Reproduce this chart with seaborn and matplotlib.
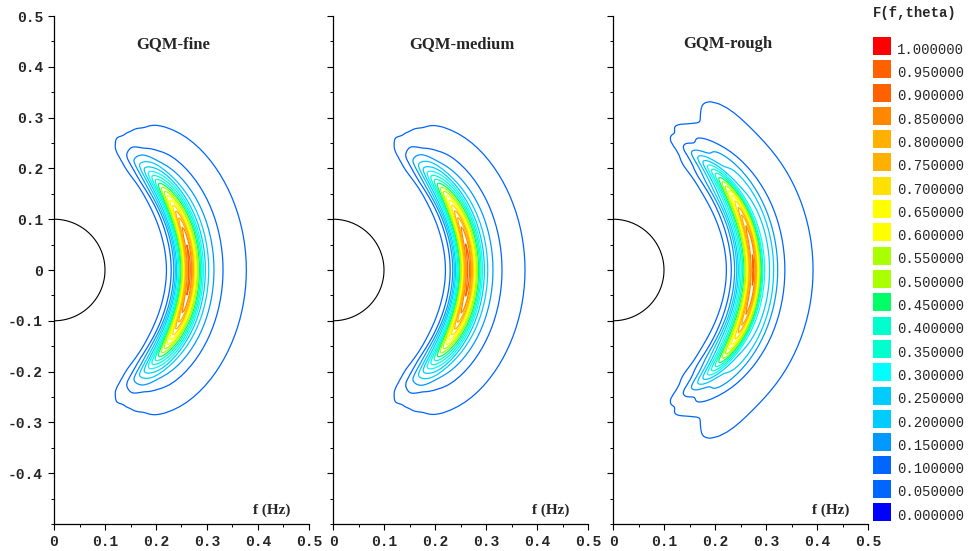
import numpy as np
import pandas as pd
import seaborn as sns
import matplotlib
matplotlib.use('Agg')
import matplotlib.pyplot as plt

# contour levels of the normalised spectrum and their colours (legend order bottom -> top)
levels = [0.00, 0.05, 0.10, 0.15, 0.20, 0.25, 0.30, 0.35, 0.40, 0.45, 0.50,
          0.55, 0.60, 0.65, 0.70, 0.75, 0.80, 0.85, 0.90, 0.95, 1.00]
level_colors = ['#0000ff', '#0066ff', '#0066ff', '#0099ff', '#00ccff', '#00ccff',
                '#00ffff', '#00ffcc', '#00ffcc', '#00ff66', '#aaff00', '#aaff00',
                '#ffff00', '#ffff00', '#ffe000', '#ffb000', '#ffb000', '#ff8800',
                '#ff6000', '#ff6000', '#ff0000']

panel_titles = ['GQM-fine', 'GQM-medium', 'GQM-rough']

# frequency nodes (Hz), spectrum at theta=0, half-power half-width (deg), spreading shape power
fine_freq = [0.00, 0.20, 0.222, 0.235, 0.25, 0.265, 0.28, 0.295, 0.31, 0.33, 0.36, 0.40, 0.45, 0.50]
fine_spec = [0.00, 0.00, 0.05, 0.13, 0.45, 1.01, 0.55, 0.25, 0.16, 0.10, 0.065, 0.03, 0.01, 0.00]
fine_width = [40, 40, 40, 40, 39, 37, 44, 50, 54, 58, 61, 63, 63, 63]
fine_power = [3.0, 3.0, 3.0, 3.0, 3.0, 3.0, 3.2, 3.6, 4.0, 4.8, 5.0, 5.0, 5.0, 5.0]

medium_freq = [0.00, 0.20, 0.222, 0.235, 0.25, 0.265, 0.28, 0.295, 0.31, 0.33, 0.36, 0.40, 0.45, 0.50]
medium_spec = [0.00, 0.00, 0.05, 0.13, 0.46, 1.01, 0.56, 0.25, 0.16, 0.10, 0.064, 0.03, 0.01, 0.00]
medium_width = [40, 40, 40, 40, 39, 37, 44, 50, 54, 58, 61, 63, 63, 63]
medium_power = [3.0, 3.0, 3.0, 3.0, 3.0, 3.0, 3.2, 3.6, 4.0, 4.8, 5.0, 5.0, 5.0, 5.0]

rough_freq = [0.00, 0.20, 0.224, 0.24, 0.26, 0.275, 0.285, 0.294, 0.308, 0.322, 0.335, 0.36, 0.392, 0.43, 0.47, 0.50]
rough_spec = [0.00, 0.00, 0.05, 0.15, 0.50, 1.01, 0.60, 0.30, 0.25, 0.15, 0.10, 0.075, 0.05, 0.025, 0.01, 0.00]
rough_width = [42, 42, 42, 42, 40, 38, 45, 51, 54, 56, 58, 62, 67, 69, 69, 69]
rough_power = [3.0, 3.0, 3.0, 3.0, 3.0, 3.0, 3.2, 3.6, 3.8, 4.2, 4.5, 5.0, 5.0, 5.0, 5.0, 5.0]
# side lobes of the rough run: frequency, |direction|, amplitude
rough_lobe = [0.375, 59.0, 0.014]

panels = [
    (fine_freq, fine_spec, fine_width, fine_power, None),
    (medium_freq, medium_spec, medium_width, medium_power, None),
    (rough_freq, rough_spec, rough_width, rough_power, rough_lobe),
]

circle_radius = 0.1

# model grid
theta_deg = np.arange(-180, 180.1, 2.5)
freq = np.arange(0.0, 0.5001, 0.0025)


def smooth(values, sigma_pts=2.0):
    k = np.arange(-8, 9)
    kern = np.exp(-0.5 * (k / sigma_pts) ** 2)
    kern /= kern.sum()
    padded = np.pad(values, 8, mode='edge')
    return np.convolve(padded, kern, mode='valid')


def spectrum(f_nodes, s_nodes, w_nodes, p_nodes, lobe):
    s = smooth(np.interp(freq, f_nodes, s_nodes), 1.5)
    w = smooth(np.interp(freq, f_nodes, w_nodes), 4.0)
    p = smooth(np.interp(freq, f_nodes, p_nodes), 4.0)
    ss, tt = np.meshgrid(s, theta_deg)
    ww, _ = np.meshgrid(w, theta_deg)
    pp, _ = np.meshgrid(p, theta_deg)
    ff, _ = np.meshgrid(freq, theta_deg)
    spread = np.exp(-np.log(2) * (np.abs(tt) / ww) ** pp)
    field = ss * spread
    if lobe is not None:
        f0, t0, amp = lobe
        field += amp * np.exp(-((ff - f0) / 0.035) ** 2 - ((np.abs(tt) - t0) / 11.0) ** 2)
    th = np.deg2rad(tt)
    return ff * np.cos(th), ff * np.sin(th), field


sns.set_style('white')
plt.rcParams['font.family'] = ['DejaVu Sans']
mono = 'Liberation Mono'
serif = 'Liberation Serif'

fig = plt.figure(figsize=(9.69, 5.51), dpi=100)
lefts = [54 / 969, 333 / 969, 613 / 969]
title_x = [0.233, 0.253, 0.225]

for i, (fn, sn, wn, pn, lobe) in enumerate(panels):
    ax = fig.add_axes([lefts[i], 27 / 551, 255 / 969, 508 / 551])
    X, Y, F = spectrum(fn, sn, wn, pn, lobe)
    ax.contour(X, Y, F, levels=levels[1:], colors=level_colors[1:], linewidths=0.9)

    phi = np.linspace(-np.pi / 2, np.pi / 2, 200)
    ax.plot(circle_radius * np.cos(phi), circle_radius * np.sin(phi), color='black', lw=0.8)

    ax.set_xlim(0, 0.5)
    ax.set_ylim(-0.5, 0.5)
    for side in ['top', 'right']:
        ax.spines[side].set_visible(False)
    for side in ['left', 'bottom']:
        ax.spines[side].set_color('black')
        ax.spines[side].set_linewidth(0.9)

    xt = np.round(np.arange(0, 0.51, 0.1), 2)
    yt = np.round(np.arange(-0.4, 0.51, 0.1), 2)
    ax.set_xticks(xt)
    ax.set_xticks(np.arange(0, 0.501, 0.05), minor=True)
    ax.set_yticks(yt)
    ax.set_yticks(np.arange(-0.5, 0.501, 0.05), minor=True)
    ax.set_xticklabels(['0' if v == 0 else f'{v:g}' for v in xt],
                       fontfamily=mono, fontweight='bold', fontsize=10.5)
    if i == 0:
        ax.set_yticklabels(['0' if v == 0 else f'{v:g}' for v in yt],
                           fontfamily=mono, fontweight='bold', fontsize=10.5)
    else:
        ax.set_yticklabels([])
    ax.tick_params(which='major', direction='out', length=4, width=0.8, color='black', pad=4)
    ax.tick_params(which='minor', direction='out', length=2.5, width=0.7, color='black')
    ax.tick_params(left=True, bottom=True, which='both')

    ax.text(title_x[i], 0.445, panel_titles[i], ha='center', va='center',
            fontfamily=serif, fontweight='bold', fontsize=12)
    ax.text(0.463, -0.472, 'f (Hz)', ha='right', va='center',
            fontfamily=serif, fontweight='bold', fontsize=11)

# level legend on the right
lax = fig.add_axes([872 / 969, (551 - 526) / 551, 97 / 969, 494 / 551])
legend_df = pd.DataFrame({'level': levels, 'label': [f'{v:.6f}' for v in levels]})
sns.scatterplot(data=legend_df, x=np.full(len(levels), 0.098), y='level', hue='label',
                palette=dict(zip(legend_df['label'], level_colors)), marker='s', s=168,
                linewidth=0, legend=False, ax=lax)
for v, lab in zip(legend_df['level'], legend_df['label']):
    lax.text(0.258, v - 0.008, lab, ha='left', va='center', fontfamily=mono, fontsize=10)
lax.set_xlim(0, 1)
lax.set_ylim(-0.03, 1.03)
lax.axis('off')
fig.text(873 / 969, 1 - 13 / 551, 'F(f,theta)', ha='left', va='center',
         fontfamily=mono, fontweight='bold', fontsize=10)

fig.savefig('out.png', dpi=100)
